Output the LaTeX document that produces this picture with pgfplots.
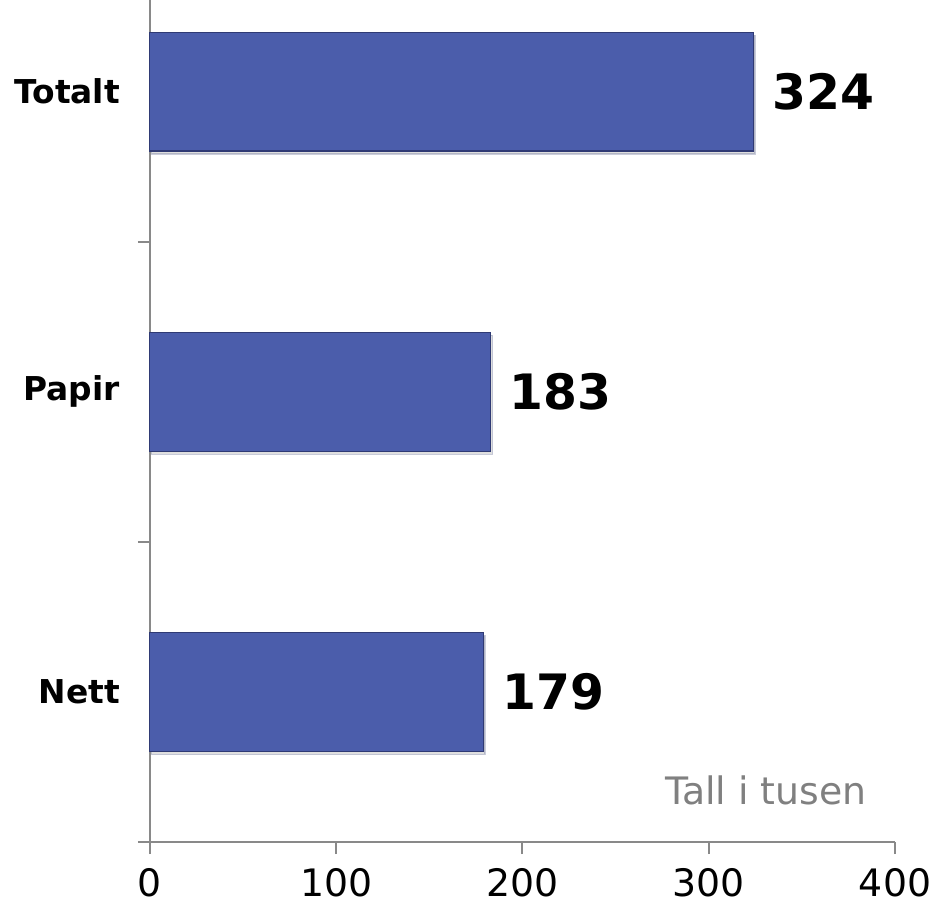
\documentclass[border=0pt]{standalone}
\usepackage{fontspec}
\setmainfont{DejaVu Sans}
\usepackage{pgfplots}
\pgfplotsset{compat=1.18}
\usetikzlibrary{shadows}

\definecolor{barblue}{HTML}{4B5DAB}
\definecolor{baredge}{HTML}{2F3A74}
\definecolor{axisgray}{HTML}{898989}
\definecolor{notegray}{HTML}{808080}

\begin{document}
\begin{tikzpicture}
\begin{axis}[
    name=ax,
    xbar,
    scale only axis,
    width=373bp, height=421.5bp,
    xmin=0, xmax=400,
    ymin=-0.5, ymax=2.305,
    xtick={0,100,200,300,400},
    ytick={0,1,2},
    yticklabels={Nett,Papir,Totalt},
    minor ytick={-0.5,0.5,1.5},
    axis x line*=bottom,
    axis y line*=left,
    axis line style={-, draw=axisgray, line width=1bp},
    tick align=outside,
    major tick length=6bp,
    minor tick length=6bp,
    every tick/.style={draw=axisgray, line width=1bp},
    major y tick style={draw=none},
    minor y tick style={draw=axisgray, line width=1bp},
    /pgf/number format/assume math mode=true,
    xticklabel style={font=\fontsize{19}{23}\selectfont, yshift=-6bp, inner sep=1bp},
    yticklabel style={font=\bfseries\fontsize{16.5}{20}\selectfont, xshift=-5.5bp},
    bar width=0.396,
    nodes near coords,
    nodes near coords style={font=\bfseries\fontsize{24.5}{30}\selectfont, black, xshift=6bp},
    clip=false,
]
\addplot[fill=barblue, draw=baredge, line width=0.6bp,
    drop shadow={shadow xshift=0.8bp, shadow yshift=-1.5bp, opacity=0.25}]
    coordinates {(179,0) (183,1) (324,2)};
\node[anchor=base east, font=\fontsize{19}{23}\selectfont, text=notegray, inner sep=0pt]
    at (axis cs:385,-0.374) {Tall i tusen};
\end{axis}
\pgfresetboundingbox
\useasboundingbox ([xshift=-75bp, yshift=-33.5bp]ax.south west)
    rectangle ([xshift=20bp]ax.north east);
\end{tikzpicture}
\end{document}
